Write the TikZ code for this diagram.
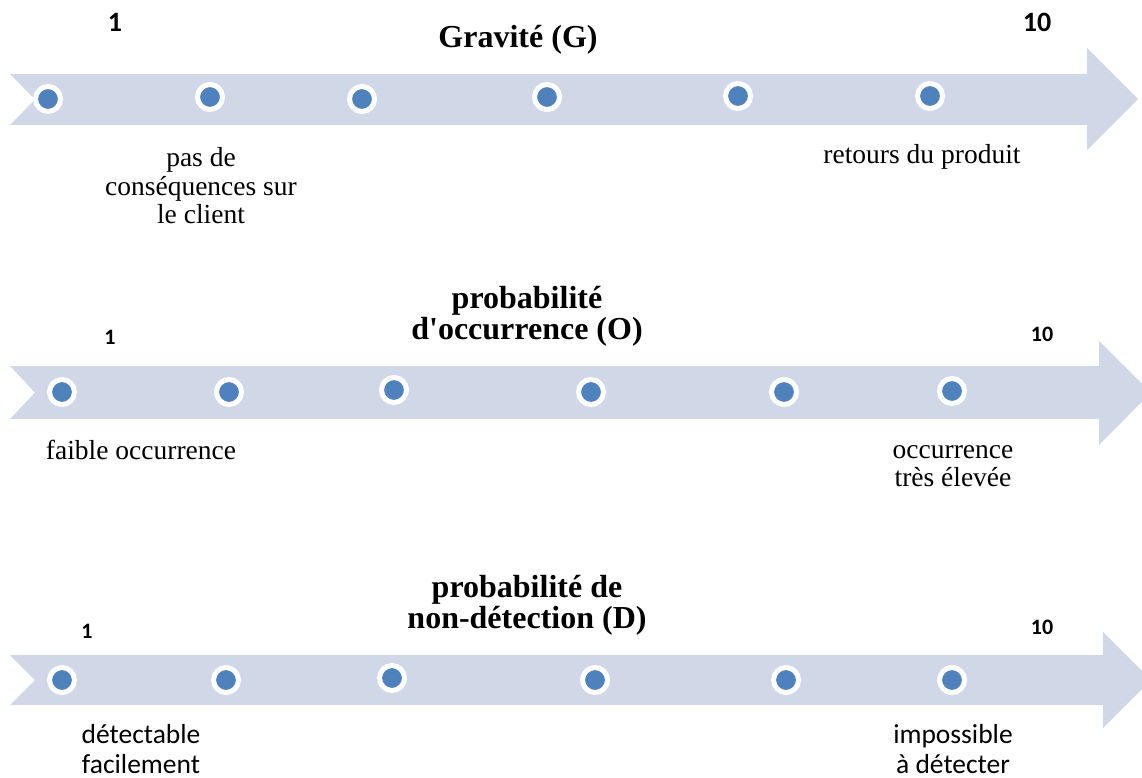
\documentclass[tikz,border=0pt]{standalone}
\usepackage{fontspec}
\setmainfont{Liberation Serif}
\newfontfamily\calibri{Carlito}
\definecolor{bandgray}{RGB}{208,216,232}
\definecolor{dotblue}{RGB}{79,129,189}
\begin{document}
\begin{tikzpicture}[x=1pt, y=-1pt, every node/.style={align=center}]
        \tikzstyle{dot}=[circle, fill=dotblue, draw=white, line width=5pt, inner sep=0pt, minimum size=25pt];
        \tikzstyle{band}=[fill=bandgray, draw=none];
        \tikzstyle{title}=[font=\fontsize{32}{31}\selectfont\bfseries];
        \tikzstyle{label}=[font=\fontsize{27.5}{28.5}\selectfont];
        \tikzstyle{sflabel}=[font=\calibri\fontsize{27.5}{30}\selectfont, inner sep=1pt];
        \tikzstyle{bignum}=[font=\calibri\fontsize{28}{30}\selectfont\bfseries];
        \tikzstyle{num}=[font=\calibri\fontsize{22}{24}\selectfont\bfseries];
        \useasboundingbox (0,0) rectangle (1142,778);
        % Gravite
        \fill[band] (10,74) -- (1087,74) -- (1087,48) -- (1138,99) -- (1087,150) -- (1087,125) -- (10,125) -- (35,99.5) -- cycle;
        \node[dot] (g1) at (48,99) {};
        \node[dot] (g2) at (210,97) {};
        \node[dot] (g3) at (362,99) {};
        \node[dot] (g4) at (547,97) {};
        \node[dot] (g5) at (738,96) {};
        \node[dot] (g6) at (930,96) {};
        \node[bignum] (gmin) at (115,22) {1};
        \node[bignum] (gmax) at (1037,22) {10};
        \node[title] (gtitle) at (518,40) {Gravité (G)};
        \node[label] (glow) at (201,186) {pas de\\conséquences sur\\le client};
        \node[label] (ghigh) at (922,157) {retours du produit};
        % Occurrence
        \fill[band] (10,366) -- (1099,366) -- (1099,341) -- (1151,392.5) -- (1099,445) -- (1099,419) -- (10,419) -- (35,392.5) -- cycle;
        \node[dot] (o1) at (62,392) {};
        \node[dot] (o2) at (229,392) {};
        \node[dot] (o3) at (394,390) {};
        \node[dot] (o4) at (591,392) {};
        \node[dot] (o5) at (784,392) {};
        \node[dot] (o6) at (952,391) {};
        \node[num] (omin) at (110,337) {1};
        \node[num] (omax) at (1042,334) {10};
        \node[title] (otitle) at (527,316) {probabilité\\d\textquotesingle occurrence (O)};
        \node[label] (olow) at (141,450) {faible occurrence};
        \node[label] (ohigh) at (953,466) {occurrence\\très élevée};
        % Detection
        \fill[band] (10,655) -- (1103,655) -- (1103,632) -- (1151,680) -- (1103,728) -- (1103,705) -- (10,705) -- (35,680) -- cycle;
        \node[dot] (d1) at (62,680) {};
        \node[dot] (d2) at (226,680) {};
        \node[dot] (d3) at (392,678) {};
        \node[dot] (d4) at (595,680) {};
        \node[dot] (d5) at (786,680) {};
        \node[dot] (d6) at (952,680) {};
        \node[num] (dmin) at (87,631) {1};
        \node[num] (dmax) at (1042,627) {10};
        \node[title] (dtitle) at (527,605) {probabilité de\\non-détection (D)};
        \node[sflabel] (dlow) at (141,749) {détectable\\facilement};
        \node[sflabel] (dhigh) at (953,749) {impossible\\à détecter};
\end{tikzpicture}
\end{document}
